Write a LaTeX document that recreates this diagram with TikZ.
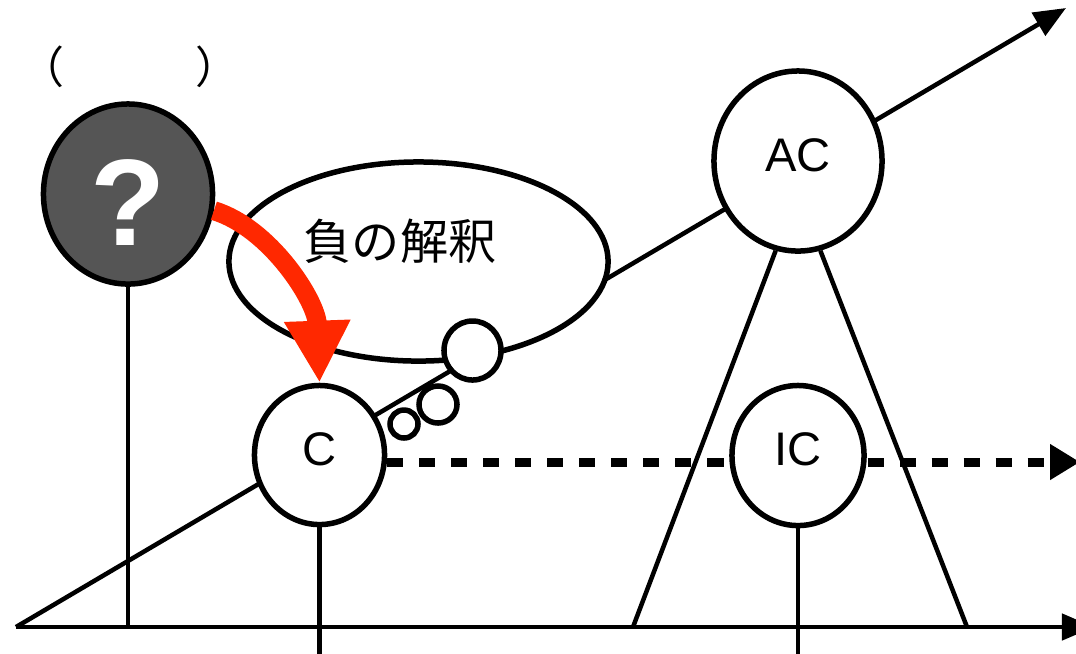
\documentclass[tikz,border=0pt]{standalone}
\usepackage{fontspec}
\setmainfont{Liberation Sans}
\newfontfamily\jpfont{Noto Sans CJK JP}
\usetikzlibrary{arrows.meta,shapes.geometric}
\definecolor{qgray}{RGB}{85,85,85}
\definecolor{arrowred}{RGB}{255,40,0}
\begin{document}
\begin{tikzpicture}[x=0.01cm,y=-0.01cm,line width=0.045cm,
    bub/.style={ellipse,draw,fill=white,inner sep=0pt,line width=0.055cm},
    lbl/.style={font=\fontsize{13.4}{16}\selectfont,text height=0.34cm,text depth=0.14cm},
    tipline/.style={-{Triangle[width=0.26cm,length=0.32cm]}},
    dashline/.style={line width=0.09cm,dash pattern=on 0.16cm off 0.16cm,-{Triangle[width=0.34cm,length=0.3cm]}},
    redarrow/.style={draw=arrowred,line width=0.19cm,-{Triangle[width=0.62cm,length=0.62cm]}}]
    \useasboundingbox (0,0) rectangle (1076,653);
    \coordinate (O) at (16,627);
    \coordinate (D) at (1066,8);
    \coordinate (X) at (1094,627);
    \coordinate (E) at (1080,462);
    \coordinate (B) at (0,670);
    \coordinate (TL) at (633,627);
    \coordinate (TR) at (967,627);
    \draw[tipline] (O)--(D);
    \draw[tipline] (O)--(X);
    % thought bubble
    \node[bub,minimum width=3.79cm,minimum height=1.99cm] (T) at (418.5,261.5){};
    \node[font=\jpfont\fontsize{13.7}{16}\selectfont] (N) at (400,241){負の解釈};
    \node[bub,minimum width=0.57cm,minimum height=0.59cm] (B1) at (472.5,350.5){};
    \node[bub,minimum width=0.38cm,minimum height=0.37cm] (B2) at (438,404.5){};
    \node[bub,minimum width=0.28cm,minimum height=0.28cm] (B3) at (404,424){};
    % circles
    \node[bub,lbl,minimum width=1.30cm,minimum height=1.39cm] (C) at (319.5,455){C};
    \draw[dashline] (C.east|-E)--(E);
    \node[bub,lbl,minimum width=1.32cm,minimum height=1.40cm] (IC) at (798,455.5){IC};
    \node[bub,lbl,minimum width=1.68cm,minimum height=1.80cm] (AC) at (798,161){AC};
    \draw (AC.-104)--(TL);
    \draw (AC.-76)--(TR);
    \draw (C)--(C|-B);
    \draw (IC)--(IC|-B);
    \node[bub,fill=qgray,text=white,font=\bfseries\fontsize{35}{40}\selectfont,text height=1.02cm,text depth=0pt,minimum width=1.69cm,minimum height=1.80cm] (Q) at (128,194){?};
    \node[font=\jpfont\fontsize{12.5}{15}\selectfont] (P) at (130,67){（　　　）};
    \draw (Q)--(Q|-O);
    \draw[redarrow] (Q.-11) .. controls +(56,17) and +(-3,-82) .. (C.north);
\end{tikzpicture}
\end{document}
